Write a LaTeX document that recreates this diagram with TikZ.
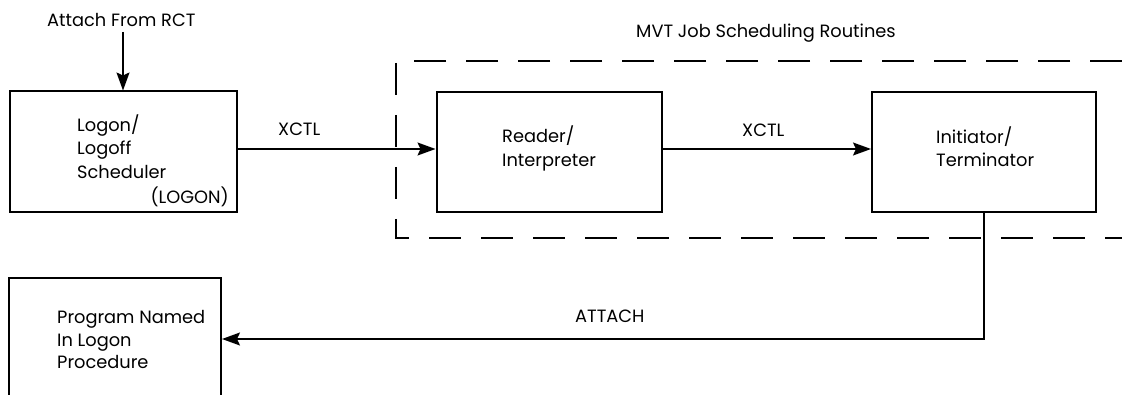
\documentclass[tikz,border=0pt]{standalone}
\usepackage{fontspec}
\setmainfont{Poppins}
\usetikzlibrary{arrows.meta}
\tikzset{
  box/.style={draw, line width=2pt, rectangle, inner sep=0pt},
  conn/.style={line width=1.4pt},
  arr/.style={conn, -{Stealth[length=18pt,width=13pt,inset=3pt]}},
  dashbox/.style={line width=1.4pt, dash pattern=on 32pt off 20pt},
  lbl/.style={anchor=base west, inner sep=0pt, font=\fontsize{17.8}{21}\selectfont},
}
\begin{document}
\begin{tikzpicture}[x=1pt,y=-1pt]
\useasboundingbox (0,0) rectangle (1122,395);
\begin{scope}
\clip (0,0) rectangle (1122,395);
% boxes
\node[box, minimum width=227pt, minimum height=121pt] (logon) at (123,152) {};
\node[box, minimum width=225pt, minimum height=120pt] (reader) at (549,152) {};
\node[box, minimum width=224pt, minimum height=120pt] (init) at (984,152) {};
\node[box, minimum width=212pt, minimum height=160pt] (prog) at (115,358) {};
% dashed group
\draw[dashbox] (1122,61) -- (396,61) -- (396,238) -- (1122,238);
% texts
\node[lbl] (tattach) at (47,27) {Attach From RCT};
\node[lbl] (tmvt) at (636,38) {MVT Job Scheduling Routines};
\node[lbl] (t1a) at (77,132) {Logon/};
\node[lbl] (t1b) at (77,155) {Logoff};
\node[lbl] (t1c) at (77,179) {Scheduler};
\node[lbl, anchor=base east] (t1d) at (229,204) {(LOGON)};
\node[lbl] (t2a) at (502,143) {Reader/};
\node[lbl] (t2b) at (502,167) {Interpreter};
\node[lbl] (t3a) at (936,144) {Initiator/};
\node[lbl] (t3b) at (936,167) {Terminator};
\node[lbl] (t4a) at (57,324) {Program Named};
\node[lbl] (t4b) at (57,347) {In Logon};
\node[lbl] (t4c) at (57,368) {Procedure};
\node[lbl] (x1) at (278,136) {XCTL};
\node[lbl] (x2) at (742,137) {XCTL};
\node[lbl] (att) at (575,323) {ATTACH};
% connectors
\coordinate (rct) at (123,32);
\draw[arr] (rct) -- (logon.north);
\draw[arr] ([yshift=3pt]logon.east) -- ([yshift=3pt]reader.west);
\draw[arr] ([yshift=3pt]reader.east) -- ([yshift=3pt]init.west);
\coordinate (corner) at (init.south |- 0,339);
\draw[arr] (init.south) -- (corner) -- (prog.east |- corner);
\end{scope}
\end{tikzpicture}
\end{document}
